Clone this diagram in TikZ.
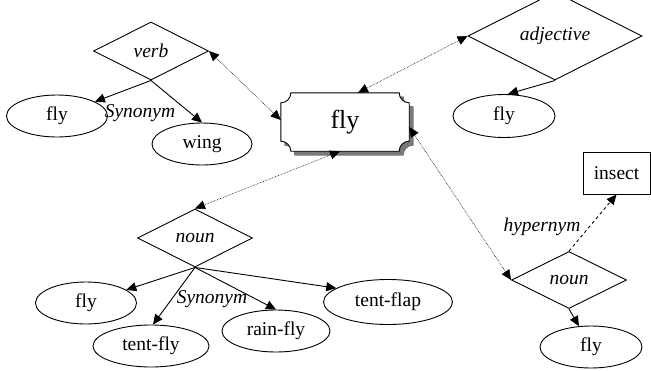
\documentclass[tikz,border=0pt]{standalone}
\usepackage{fontspec}
\setmainfont{Liberation Serif}
\usepackage{tikz}
\usetikzlibrary{shapes.geometric,arrows.meta}
\definecolor{senseline}{HTML}{000000}
\definecolor{shadowgray}{HTML}{7A7A7A}
\tikzset{
  posbox/.style={diamond,draw=senseline,line width=0.9pt,inner sep=0pt,
    minimum width=115pt,minimum height=58pt,font=\fontsize{19.5}{22}\selectfont\itshape},
  sense/.style={ellipse,draw=senseline,line width=0.9pt,inner sep=0pt,
    minimum width=101pt,minimum height=42pt,font=\fontsize{19.5}{22}\selectfont},
  concept/.style={rectangle,draw=senseline,line width=0.9pt,
    minimum width=67pt,minimum height=42pt,font=\fontsize{19.5}{22}\selectfont},
  link/.style={draw=senseline,line width=0.9pt,-{Triangle[length=10pt,width=9pt]}},
  posline/.style={draw=senseline,line width=0.6pt,densely dotted,
    {Triangle[length=10pt,width=9pt]}-{Triangle[length=10pt,width=9pt]}},
  hyper/.style={link,dashed},
  relname/.style={font=\fontsize{19.5}{22}\selectfont\itshape,inner sep=0pt}
}

\begin{document}
\begin{tikzpicture}[x=1pt,y=-1pt]
  \useasboundingbox (0,0) rectangle (651,370);
  % centre word
  \node[minimum width=128pt,minimum height=58pt,inner sep=0pt] (fly) at (345,122) {};
  \foreach \s/\col/\edge in {4pt/shadowgray/shadowgray,0pt/white/senseline}
    \draw[fill=\col,draw=\edge,line width=0.9pt]
      ([xshift=10pt+\s,yshift=-\s]fly.north west)
      -- ([xshift=-10pt+\s,yshift=-\s]fly.north east)
      arc[start angle=180,end angle=270,radius=10pt]
      -- ([xshift=\s,yshift=10pt-\s]fly.south east)
      arc[start angle=90,end angle=180,radius=10pt]
      -- ([xshift=10pt+\s,yshift=-\s]fly.south west)
      arc[start angle=0,end angle=90,radius=10pt]
      -- ([xshift=\s,yshift=-10pt-\s]fly.north west)
      arc[start angle=270,end angle=360,radius=10pt] -- cycle;
  \node[font=\fontsize{26}{28}\selectfont] (flyword) at (fly) {fly};

  % verb
  \node[posbox] (verb) at (151,51) {verb};
  \node[sense] (verbfly) at (57,116) {fly};
  \node[sense,minimum width=100pt] (wing) at (202,144) {wing};
  \draw[link] (verb.south) -- (verbfly);
  \draw[link] (verb.south) -- (wing.north);
  \node[relname] (verbsyn) at (140,113) {Synonym};

  % adjective
  \node[posbox,minimum width=174pt,minimum height=57pt] (adj) at (555,36) {adjective};
  \node[sense,minimum width=102pt,minimum height=43pt] (adjfly) at (504,116) {fly};
  \draw[link] (adj.south) -- ([xshift=4pt]adjfly.north);

  % noun, left
  \node[posbox] (noun) at (195,238) {noun};
  \node[sense] (nounfly) at (86,303) {fly};
  \node[sense,minimum width=116pt] (tentfly) at (151,346) {tent-fly};
  \node[sense,minimum width=108pt] (rainfly) at (276,331) {rain-fly};
  \node[sense,minimum width=129pt,minimum height=45pt] (tentflap) at (388,302) {tent-flap};
  \draw[link] (noun.south) -- (nounfly);
  \draw[link] (noun.south) -- ([xshift=2pt]tentfly.north);
  \draw[link] (noun.south) -- (rainfly.north);
  \draw[link] (noun.south) -- (tentflap.165);
  \node[relname] (nounsyn) at (212,299) {Synonym};

  % noun, right
  \node[posbox,minimum height=57pt] (noun2) at (569,280) {noun};
  \node[sense,minimum width=102pt] (noun2fly) at (591,347) {fly};
  \node[concept] (insect) at (616.5,173) {insect};
  \draw[link] (noun2.south) -- (noun2fly);
  \draw[hyper] (noun2.north) -- (insect.south);
  \node[relname] (hyp) at (542,227) {hypernym};

  % parts of speech
  \draw[posline] (verb.east) -- ([yshift=2pt]fly.west);
  \draw[posline] (adj.west) -- ([xshift=13pt]fly.north);
  \draw[posline] ([xshift=-5pt]fly.south) -- (noun.north);
  \draw[posline] ([yshift=-5pt]fly.east) -- (noun2.west);
\end{tikzpicture}
\end{document}
